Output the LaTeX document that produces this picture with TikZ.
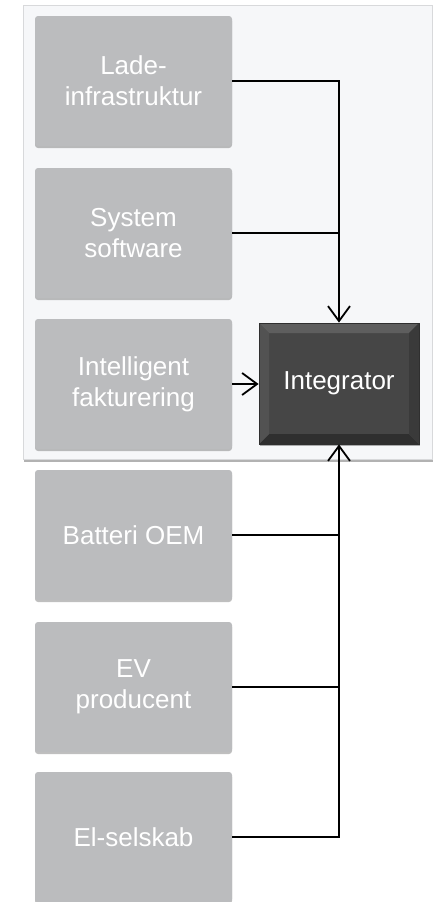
\documentclass[tikz,border=0pt]{standalone}
\usepackage{fontspec}
\setmainfont{Liberation Sans}
\usetikzlibrary{arrows.meta,shadows}
\definecolor{boxgray}{HTML}{BBBCBE}
\definecolor{contfill}{HTML}{F6F7F9}
\definecolor{contline}{HTML}{D8D9DB}
\definecolor{intmid}{HTML}{464646}
\definecolor{inttop}{HTML}{5E5E5E}
\definecolor{intleft}{HTML}{525252}
\definecolor{intright}{HTML}{3A3A3A}
\definecolor{intbot}{HTML}{2F2F2F}
\begin{document}
\begin{tikzpicture}[x=1pt,y=-1pt,
  txt/.style={text=white,font=\fontsize{26}{31}\selectfont,align=center},
  gbox/.style={txt,fill=boxgray,rounded corners=3pt,minimum width=197pt,minimum height=130pt,inner sep=0pt,
    drop shadow={shadow xshift=0pt,shadow yshift=-2pt,opacity=0.25,fill=black}},
  conn/.style={line width=1.8pt,draw=black},
  arr/.style={conn,-{Straight Barb[length=15pt,width=22pt,line width=1.8pt]}},
  bevel/.style={path picture={
    \fill[inttop] (path picture bounding box.north west) -- (path picture bounding box.north east)
      -- ([shift={(-10pt,-10pt)}]path picture bounding box.north east) -- ([shift={(10pt,-10pt)}]path picture bounding box.north west) -- cycle;
    \fill[intbot] (path picture bounding box.south west) -- (path picture bounding box.south east)
      -- ([shift={(-10pt,10pt)}]path picture bounding box.south east) -- ([shift={(10pt,10pt)}]path picture bounding box.south west) -- cycle;
    \fill[intleft] (path picture bounding box.north west) -- (path picture bounding box.south west)
      -- ([shift={(10pt,10pt)}]path picture bounding box.south west) -- ([shift={(10pt,-10pt)}]path picture bounding box.north west) -- cycle;
    \fill[intright] (path picture bounding box.north east) -- (path picture bounding box.south east)
      -- ([shift={(-10pt,10pt)}]path picture bounding box.south east) -- ([shift={(-10pt,-10pt)}]path picture bounding box.north east) -- cycle;
  }}
]
\useasboundingbox (0,0) rectangle (437,902);
\fill[white] (0,0) rectangle (437,902);
% container
\path[fill=contfill,draw=contline,line width=1pt,
  drop shadow={shadow xshift=1pt,shadow yshift=-3pt,opacity=0.3,fill=black}]
  (23,5) rectangle (432,459);
% boxes
\node[gbox] (lade) at (133.5,81) {Lade-\\infrastruktur};
\node[gbox] (sys) at (133.5,233) {System\\software};
\node[gbox] (intf) at (133.5,384) {Intelligent\\fakturering};
\node[gbox] (bat) at (133.5,535) {Batteri OEM};
\node[gbox] (ev) at (133.5,687) {EV\\producent};
\node[gbox] (el) at (133.5,837) {El-selskab};
% integrator
\node[txt,fill=intmid,draw=intbot,line width=0.8pt,minimum width=160pt,minimum height=121pt,inner sep=0pt,bevel,
  drop shadow={shadow xshift=1pt,shadow yshift=-2pt,opacity=0.3,fill=black}] (integ) at (339,383.5) {Integrator};
% connectors
\draw[arr] (lade.east) -| (integ.north);
\draw[conn] (sys.east) -- (sys.east -| integ.north);
\draw[arr] (intf.east) -- (intf.east -| integ.west);
\draw[arr] (el.east) -| (integ.south);
\draw[conn] (bat.east) -- (bat.east -| integ.south);
\draw[conn] (ev.east) -- (ev.east -| integ.south);
\end{tikzpicture}
\end{document}
